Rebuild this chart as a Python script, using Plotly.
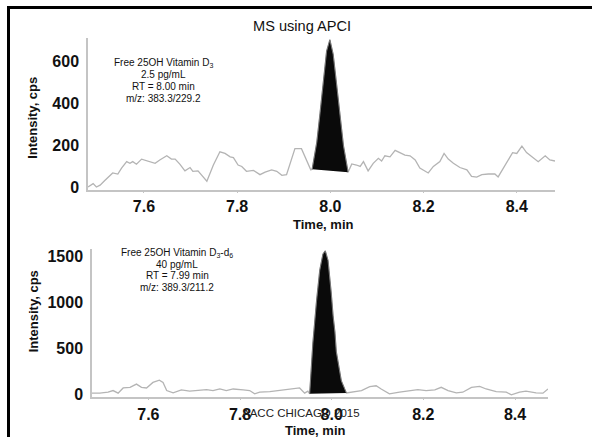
import plotly.graph_objects as go

# ---------------- Data ----------------
# Top panel: Free 25OH Vitamin D3, baseline noise (time, cps)
top_pre_t = [7.480, 7.491, 7.498, 7.506, 7.516, 7.527, 7.533, 7.544, 7.552, 7.563,
             7.570, 7.576, 7.584, 7.595, 7.602, 7.613, 7.624, 7.634, 7.649, 7.659,
             7.667, 7.677, 7.688, 7.699, 7.705, 7.716, 7.727, 7.735, 7.749, 7.763,
             7.774, 7.785, 7.792, 7.802, 7.810, 7.820, 7.835, 7.849, 7.860, 7.874,
             7.885, 7.896, 7.906, 7.917, 7.924, 7.938, 7.949, 7.958]
top_pre_v = [3, 19, 3, 12, 34, 59, 70, 65, 93, 124,
             116, 124, 112, 136, 132, 124, 116, 132, 152, 136,
             136, 112, 80, 96, 78, 80, 50, 31, 108, 171,
             163, 147, 143, 108, 101, 78, 82, 62, 74, 85,
             78, 59, 62, 140, 186, 186, 132, 85]
# Top panel: integrated peak (apex ~8.00 min)
top_peak_t = [7.961, 7.971, 7.978, 7.985, 7.992, 7.999, 8.006, 8.014, 8.021, 8.028, 8.038]
top_peak_v = [88, 217, 357, 512, 651, 705, 636, 480, 326, 201, 74]
top_post_t = [8.046, 8.056, 8.064, 8.071, 8.081, 8.092, 8.103, 8.110, 8.117, 8.128,
              8.139, 8.149, 8.160, 8.171, 8.182, 8.192, 8.199, 8.210, 8.221, 8.235,
              8.244, 8.253, 8.264, 8.278, 8.293, 8.303, 8.314, 8.325, 8.339, 8.353,
              8.360, 8.371, 8.382, 8.391, 8.400, 8.411, 8.421, 8.432, 8.446, 8.461,
              8.471, 8.482]
top_post_v = [113, 108, 101, 124, 80, 116, 140, 127, 152, 147,
              178, 167, 155, 152, 132, 93, 85, 70, 101, 124,
              163, 136, 116, 96, 85, 54, 50, 62, 65, 65,
              51, 93, 132, 167, 163, 198, 167, 147, 124, 152,
              132, 127]

# Bottom panel: Free 25OH Vitamin D3-d6 (internal standard)
bot_pre_t = [7.476, 7.494, 7.512, 7.523, 7.534, 7.545, 7.560, 7.574, 7.585, 7.596,
             7.610, 7.624, 7.632, 7.640, 7.654, 7.672, 7.690, 7.709, 7.727, 7.741,
             7.756, 7.770, 7.785, 7.807, 7.821, 7.832, 7.843, 7.865, 7.887, 7.908,
             7.930, 7.941, 7.948]
bot_pre_v = [18, 18, 28, 46, 18, 74, 81, 116, 81, 74,
             134, 159, 134, 46, 21, 53, 39, 46, 56, 46,
             63, 46, 63, 53, 46, 11, 28, 35, 46, 56,
             74, 18, 39]
bot_peak_t = [7.952, 7.959, 7.967, 7.974, 7.981, 7.986, 7.992, 7.996, 7.999, 8.003,
              8.007, 8.010, 8.017, 8.021, 8.032]
bot_peak_v = [11, 560, 1015, 1350, 1525, 1560, 1455, 1280, 1102, 856,
              680, 468, 257, 151, 20]
bot_post_t = [8.046, 8.065, 8.083, 8.097, 8.108, 8.126, 8.148, 8.170, 8.188, 8.206,
              8.225, 8.239, 8.254, 8.272, 8.286, 8.305, 8.323, 8.337, 8.359, 8.381,
              8.392, 8.410, 8.424, 8.446, 8.461, 8.472]
bot_post_v = [28, 46, 88, 98, 63, 11, 28, 46, 56, 46,
              53, 81, 46, 21, 28, 81, 92, 63, 35, 28,
              0, 28, 39, 21, 18, 63]

x_ticks = [7.6, 7.8, 8.0, 8.2, 8.4]
x_tick_text = ["7.6", "7.8", "8.0", "8.2", "8.4"]
top_y_ticks = [0, 200, 400, 600]
bot_y_ticks = [0, 500, 1000, 1500]

top_info = ["Free 25OH Vitamin D<sub>3</sub>", "2.5 pg/mL", "RT = 8.00 min", "m/z: 383.3/229.2"]
bot_info = ["Free 25OH Vitamin D<sub>3</sub>-d<sub>6</sub>", "40 pg/mL", "RT = 7.99 min", "m/z: 389.3/211.2"]

# ---------------- Figure ----------------
W, H = 592, 444
GREY = "#b4b4b4"
AXIS = "#c4c4c4"
FONT = "Liberation Sans, Arial, sans-serif"

def px(x):
    return x / W

def py(y):
    return 1 - y / H

fig = go.Figure()

# top panel
fig.add_trace(go.Scatter(x=top_pre_t + top_peak_t + top_post_t,
                         y=top_pre_v + top_peak_v + top_post_v,
                         mode="lines", line=dict(color=GREY, width=1.3),
                         xaxis="x", yaxis="y", hoverinfo="skip"))
fig.add_trace(go.Scatter(x=top_peak_t, y=top_peak_v, mode="lines", fill="toself",
                         fillcolor="#0a0a0a", line=dict(color="#777777", width=1),
                         xaxis="x", yaxis="y", hoverinfo="skip"))
# bottom panel
fig.add_trace(go.Scatter(x=bot_pre_t + bot_peak_t + bot_post_t,
                         y=bot_pre_v + bot_peak_v + bot_post_v,
                         mode="lines", line=dict(color=GREY, width=1.3),
                         xaxis="x2", yaxis="y2", hoverinfo="skip"))
fig.add_trace(go.Scatter(x=bot_peak_t, y=bot_peak_v, mode="lines", fill="toself",
                         fillcolor="#0a0a0a", line=dict(color="#777777", width=1),
                         xaxis="x2", yaxis="y2", hoverinfo="skip"))

tickfont = dict(family=FONT, size=16, color="#111111", weight="bold")

xcommon = dict(tickvals=x_ticks, ticktext=x_tick_text, showgrid=False, zeroline=False,
               showline=True, linecolor=AXIS, linewidth=1.5, ticks="outside",
               ticklen=2, tickcolor=AXIS, tickfont=tickfont)
ycommon = dict(showgrid=False, zeroline=False, showline=True, linecolor=AXIS,
               linewidth=1.5, ticks="outside", ticklen=4, tickcolor="rgba(0,0,0,0)",
               tickfont=tickfont)

fig.update_layout(
    width=W, height=H,
    margin=dict(l=0, r=0, t=0, b=0),
    paper_bgcolor="white", plot_bgcolor="white",
    showlegend=False,
    xaxis=dict(domain=[px(88), px(555)], range=[7.480, 8.482], anchor="y", **xcommon),
    yaxis=dict(domain=[py(192), py(38)], range=[-9, 712], anchor="x",
               tickvals=top_y_ticks, **ycommon),
    xaxis2=dict(domain=[px(92), px(548)], range=[7.477, 8.472], anchor="y2", **xcommon),
    yaxis2=dict(domain=[py(403), py(253)], range=[-21, 1575], anchor="x2",
                tickvals=bot_y_ticks, **ycommon),
)

ann = []
# title and footer
ann.append(dict(text="MS using APCI", x=px(302), y=py(25), xref="paper", yref="paper",
                showarrow=False, font=dict(family=FONT, size=14.6, color="#111111"),
                xanchor="center", yanchor="middle"))
ann.append(dict(text="AACC CHICAGO 2015", x=px(301), y=py(420), xref="paper", yref="paper",
                showarrow=False, font=dict(family=FONT, size=11.5, color="#222222"),
                xanchor="center", yanchor="middle"))
# axis titles
lab = dict(family=FONT, size=13, color="#111111", weight="bold")
ann.append(dict(text="Time, min", x=px(323), y=py(228), xref="paper", yref="paper",
                showarrow=False, font=lab, xanchor="center", yanchor="middle"))
ann.append(dict(text="Time, min", x=px(315), y=py(437), xref="paper", yref="paper",
                showarrow=False, font=lab, xanchor="center", yanchor="middle"))
ann.append(dict(text="Intensity, cps", x=px(33), y=py(119), xref="paper", yref="paper",
                showarrow=False, font=lab, textangle=-90, xanchor="center", yanchor="middle"))
ann.append(dict(text="Intensity, cps", x=px(33), y=py(316), xref="paper", yref="paper",
                showarrow=False, font=lab, textangle=-90, xanchor="center", yanchor="middle"))
# info blocks
info_font = dict(family=FONT, size=10, color="#111111")
for i, line in enumerate(top_info):
    ann.append(dict(text=line, x=px(163), y=py(63 + 12 * i), xref="paper", yref="paper",
                    showarrow=False, font=info_font, xanchor="center", yanchor="middle"))
for i, line in enumerate(bot_info):
    ann.append(dict(text=line, x=px(177), y=py(257 + 11.5 * i), xref="paper", yref="paper",
                    showarrow=False, font=info_font, xanchor="center", yanchor="middle"))
fig.update_layout(annotations=ann)

# outer frame (top and left edges)
fig.update_layout(shapes=[
    dict(type="line", xref="paper", yref="paper", x0=px(7), x1=1, y0=py(6.5), y1=py(6.5),
         line=dict(color="black", width=3)),
    dict(type="line", xref="paper", yref="paper", x0=px(8.5), x1=px(8.5), y0=py(5), y1=0,
         line=dict(color="black", width=3)),
])

fig.write_html("out.html")
